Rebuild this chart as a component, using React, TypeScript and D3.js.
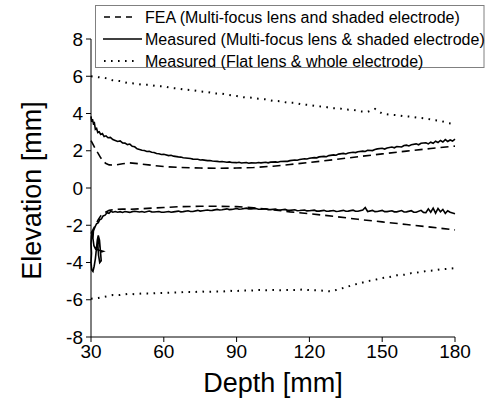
import React from "react";
import * as d3 from "d3";

type P = [number, number];

const xTicks = [30, 60, 90, 120, 150, 180];
const yTicks = [-8, -6, -4, -2, 0, 2, 4, 6, 8];

const legendLabels = [
  "FEA (Multi-focus lens and shaded electrode)",
  "Measured (Multi-focus lens & shaded electrode)",
  "Measured (Flat lens & whole electrode)",
];

const feaUpper: P[] = [
  [30, 2.55], [31, 2.3], [32, 2.05], [33, 1.85], [34, 1.62], [35, 1.45], [36, 1.33], [37.5, 1.24],
  [40, 1.23], [43, 1.3], [46, 1.35], [50, 1.3], [55, 1.22], [60, 1.15], [67, 1.1], [75, 1.07],
  [82, 1.06], [90, 1.07], [97, 1.1], [105, 1.17], [112, 1.26], [120, 1.37], [130, 1.52],
  [140, 1.68], [150, 1.83], [160, 1.98], [170, 2.12], [180, 2.25],
];

const feaLower: P[] = [
  [30, -2.45], [31, -2.2], [32, -1.95], [33, -1.7], [34, -1.5], [35, -1.38], [36, -1.3], [37.5, -1.2],
  [40, -1.15], [43, -1.13], [46, -1.14], [50, -1.12], [55, -1.08], [60, -1.05], [67, -1.0], [75, -0.98],
  [82, -0.98], [90, -1.0], [97, -1.06], [105, -1.17], [112, -1.28], [120, -1.38], [130, -1.52],
  [140, -1.68], [150, -1.82], [160, -1.96], [170, -2.1], [180, -2.25],
];

const measUpper: P[] = [
  [30.0, 3.85], [30.3, 3.55], [30.6, 3.7], [31.0, 3.45], [31.4, 3.5], [31.8, 3.15], [32.3, 3.2], [32.8, 2.98],
  [33.4, 3.02], [34.0, 2.88], [34.7, 2.92], [35.4, 2.76], [36.2, 2.8], [37.0, 2.7], [38.0, 2.72], [39.0, 2.6],
  [40, 2.55], [41, 2.5], [42, 2.53], [43, 2.42], [44, 2.41], [45, 2.33], [46, 2.36], [47, 2.24], [48, 2.21],
  [49, 2.1], [50, 2.07], [51, 2.03], [52, 2.01], [53, 1.96], [54, 1.97], [55, 1.92], [56, 1.91], [57, 1.85],
  [58, 1.84], [59, 1.8], [60, 1.81], [62, 1.74], [63, 1.76], [64, 1.71], [66, 1.67], [67, 1.66], [68, 1.62],
  [70, 1.6], [71, 1.58], [72, 1.55], [74, 1.54], [75, 1.5], [76, 1.51], [78, 1.47], [79, 1.48], [80, 1.45],
  [82, 1.43], [83, 1.41], [84, 1.42], [86, 1.38], [87, 1.4], [88, 1.37], [90, 1.36], [91, 1.38], [92, 1.34],
  [94, 1.37], [95, 1.33], [96, 1.35], [98, 1.34], [99, 1.37], [100, 1.35], [102, 1.38], [103, 1.35],
  [104, 1.39], [106, 1.4], [107, 1.38], [108, 1.42], [110, 1.44], [111, 1.43], [112, 1.47], [114, 1.5],
  [115, 1.49], [116, 1.53], [118, 1.57], [119, 1.56], [120, 1.6], [122, 1.63], [123, 1.62], [124, 1.67],
  [126, 1.7], [127, 1.68], [128, 1.74], [130, 1.78], [131, 1.76], [132, 1.82], [134, 1.86], [135, 1.83],
  [136, 1.88], [138, 1.92], [139, 1.9], [140, 1.95], [142, 1.98], [143, 1.96], [144, 2.03], [146, 2.01],
  [147, 2.07], [148, 2.1], [150, 2.13], [151, 2.09], [152, 2.15], [154, 2.2], [155, 2.16], [156, 2.23],
  [158, 2.2], [159, 2.28], [160, 2.3], [161, 2.26], [162, 2.32], [164, 2.37], [165, 2.32], [166, 2.4],
  [168, 2.43], [169, 2.37], [170, 2.46], [171, 2.4], [172, 2.51], [173, 2.44], [174, 2.55], [175, 2.47],
  [176, 2.6], [177, 2.5], [178, 2.58], [179, 2.52], [180, 2.62],
];

const measLower: P[] = [
  [30.6, -2.3], [30.2, -2.6], [30.0, -3.0], [30.2, -3.5], [30.0, -4.0], [30.3, -4.4], [30.8, -4.48],
  [31.3, -4.2], [31.8, -3.8], [32.2, -3.3], [32.6, -2.8], [33.0, -2.55], [33.5, -2.8], [33.9, -3.4],
  [34.2, -3.9], [33.6, -4.0], [33.1, -3.6], [32.8, -3.0], [33.2, -2.7], [33.6, -3.1], [34.0, -3.45],
  [35.0, -3.4], [33.5, -3.35], [32.0, -3.3], [31.2, -3.1], [30.8, -2.7], [31.0, -2.3], [31.6, -2.1],
  [32.3, -1.92], [33.0, -1.86], [33.6, -1.7], [34.3, -1.66], [35.0, -1.5], [35.8, -1.46], [36.6, -1.33],
  [37.4, -1.36], [38.2, -1.25], [39, -1.3], [40, -1.26], [41, -1.3], [42, -1.27], [43, -1.31], [44, -1.26],
  [46, -1.31], [47, -1.27], [48, -1.25], [50, -1.29], [51, -1.26], [52, -1.3], [54, -1.24], [55, -1.28],
  [56, -1.29], [58, -1.26], [59, -1.3], [60, -1.3], [62, -1.26], [63, -1.3], [64, -1.28], [66, -1.24],
  [67, -1.28], [68, -1.27], [70, -1.22], [71, -1.26], [72, -1.26], [74, -1.2], [75, -1.24], [76, -1.22],
  [78, -1.18], [79, -1.21], [80, -1.2], [82, -1.15], [83, -1.18], [84, -1.17], [86, -1.12], [87, -1.16],
  [88, -1.15], [90, -1.1], [91, -1.14], [92, -1.13], [94, -1.08], [95, -1.12], [96, -1.12], [98, -1.1],
  [99, -1.14], [100, -1.14], [102, -1.12], [103, -1.16], [104, -1.16], [106, -1.13], [107, -1.18],
  [108, -1.18], [110, -1.15], [111, -1.2], [112, -1.2], [114, -1.17], [115, -1.22], [116, -1.21],
  [118, -1.18], [119, -1.23], [120, -1.22], [122, -1.19], [123, -1.24], [124, -1.24], [126, -1.2],
  [127, -1.25], [128, -1.24], [130, -1.21], [131, -1.26], [132, -1.25], [134, -1.2], [135, -1.25],
  [136, -1.24], [138, -1.19], [139, -1.25], [140, -1.25], [142, -1.18], [143, -1.05], [144, -1.26],
  [146, -1.2], [147, -1.27], [148, -1.26], [150, -1.2], [151, -1.27], [152, -1.27], [154, -1.22],
  [155, -1.28], [156, -1.28], [158, -1.21], [159, -1.29], [160, -1.28], [162, -1.22], [163, -1.3],
  [164, -1.3], [166, -1.2], [167, -1.31], [168, -1.32], [169, -1.12], [170, -1.3], [171, -1.08],
  [172, -1.35], [173, -1.1], [174, -1.28], [175, -1.15], [176, -1.36], [177, -1.22], [178, -1.3],
  [179, -1.34], [180, -1.38],
];

const flatUpper: P[] = [
  [30, 6.0], [33, 5.95], [36, 5.9], [39, 5.78], [42, 5.74], [45, 5.64], [48, 5.61], [51, 5.54],
  [54, 5.55], [57, 5.47], [60, 5.46], [63, 5.37], [66, 5.34], [69, 5.28], [72, 5.25], [75, 5.19],
  [78, 5.15], [81, 5.08], [84, 5.06], [87, 4.99], [90, 4.94], [93, 4.87], [96, 4.85], [99, 4.79],
  [102, 4.76], [105, 4.68], [108, 4.66], [111, 4.58], [114, 4.57], [117, 4.49], [120, 4.46], [123, 4.39],
  [126, 4.37], [129, 4.29], [132, 4.28], [135, 4.21], [138, 4.2], [141, 4.11], [144, 4.09], [147, 4.25],
  [150, 3.99], [153, 3.94], [156, 3.91], [159, 3.85], [162, 3.83], [165, 3.77], [168, 3.73], [171, 3.65],
  [174, 3.61], [177, 3.49], [180, 3.43],
];

const flatLower: P[] = [
  [30, -5.95], [33, -5.9], [36, -5.83], [39, -5.75], [42, -5.75], [45, -5.69], [48, -5.7], [51, -5.66],
  [54, -5.67], [57, -5.64], [60, -5.63], [63, -5.62], [66, -5.61], [69, -5.58], [72, -5.59], [75, -5.56],
  [78, -5.57], [81, -5.56], [84, -5.56], [87, -5.52], [90, -5.53], [93, -5.5], [96, -5.51], [99, -5.48],
  [102, -5.49], [105, -5.47], [108, -5.49], [111, -5.47], [114, -5.48], [117, -5.45], [120, -5.48],
  [123, -5.49], [126, -5.52], [129, -5.55], [132, -5.44], [135, -5.33], [138, -5.2], [141, -5.11],
  [144, -5.0], [147, -4.93], [150, -4.84], [153, -4.78], [156, -4.69], [159, -4.66], [162, -4.57],
  [165, -4.53], [168, -4.46], [171, -4.43], [174, -4.37], [177, -4.34], [180, -4.3],
];

const FONT = "'Liberation Sans', Arial, sans-serif";

export default function App() {
  const x = d3.scaleLinear().domain([30, 180]).range([91, 455]);
  const y = d3.scaleLinear().domain([-8, 8]).range([337, 39]);
  const line = d3.line<P>().x((d) => x(d[0])).y((d) => y(d[1]));

  const dash = "8,5";
  const dot = "1.6,5.4";

  return (
    <svg width={489} height={400} style={{ position: "absolute", left: 0, top: 0, background: "#fff" }}>
      <rect width={489} height={400} fill="#fff" />
      <g fill="none" stroke="#000">
        <path d={line(feaUpper) || ""} strokeWidth={1.6} strokeDasharray={dash} />
        <path d={line(feaLower) || ""} strokeWidth={1.6} strokeDasharray={dash} />
        <path d={line(measUpper) || ""} strokeWidth={1.6} />
        <path d={line(measLower) || ""} strokeWidth={1.6} />
        <path d={line(flatUpper) || ""} strokeWidth={2} strokeDasharray={dot} />
        <path d={line(flatLower) || ""} strokeWidth={2} strokeDasharray={dot} />
      </g>
      <g stroke="#000" strokeWidth={1}>
        <line x1={x(30)} x2={x(180)} y1={y(-8)} y2={y(-8)} />
        <line x1={x(30)} x2={x(30)} y1={y(-8)} y2={y(8)} />
        {xTicks.map((t) => (
          <line key={"xt" + t} x1={x(t)} x2={x(t)} y1={y(-8)} y2={y(-8) + 5} />
        ))}
        {yTicks.map((t) => (
          <line key={"yt" + t} x1={x(30) - 5} x2={x(30)} y1={y(t)} y2={y(t)} />
        ))}
      </g>
      <g fontFamily={FONT} fontSize={19} fill="#000">
        {xTicks.map((t) => (
          <text key={"xl" + t} x={x(t)} y={358} textAnchor="middle">
            {t}
          </text>
        ))}
        {yTicks.map((t) => (
          <text key={"yl" + t} x={83} y={y(t)} dy="0.35em" textAnchor="end">
            {t}
          </text>
        ))}
      </g>
      <text x={273} y={392} textAnchor="middle" fontFamily={FONT} fontSize={27}>
        Depth [mm]
      </text>
      <text
        transform={`translate(41,190.5) rotate(-90)`}
        textAnchor="middle"
        fontFamily={FONT}
        fontSize={27}
      >
        Elevation [mm]
      </text>
      <rect x={95.5} y={5.5} width={388.5} height={62} fill="#fff" stroke="#808080" strokeWidth={1} />
      <g stroke="#000" fill="none">
        <line x1={104} x2={133} y1={17} y2={17} strokeWidth={1.6} strokeDasharray="6,5" />
        <line x1={103} x2={142} y1={39} y2={39} strokeWidth={1.6} />
        <line x1={104} x2={134} y1={61} y2={61} strokeWidth={2} strokeDasharray="1.6,5.4" />
      </g>
      <g fontFamily={FONT} fontSize={16} fill="#000">
        {legendLabels.map((l, i) => (
          <text key={l} x={145} y={17 + i * 22} dy="0.35em">
            {l}
          </text>
        ))}
      </g>
    </svg>
  );
}
